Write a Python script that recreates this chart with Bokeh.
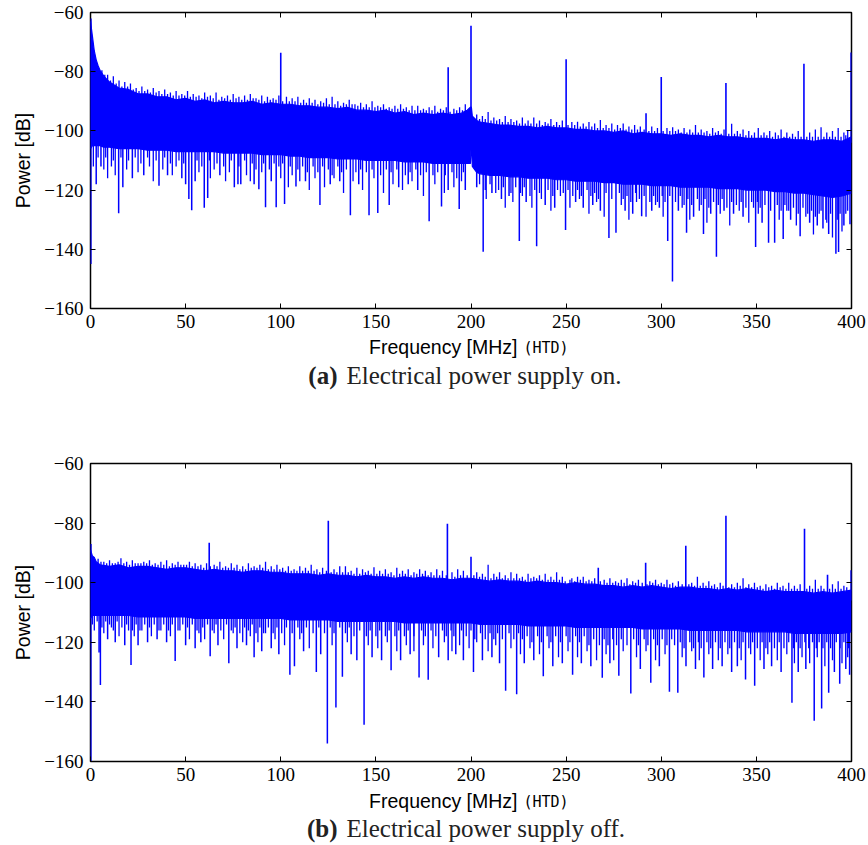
from bokeh.plotting import figure
from bokeh.models import LinearAxis, FixedTicker, Range1d, CustomJSTickFormatter
from bokeh.layouts import column
from bokeh.embed import file_html
from bokeh.resources import INLINE
from bokeh.core.properties import value

BLUE = "#0000ff"

x_ticks = [0, 50, 100, 150, 200, 250, 300, 350, 400]
y_ticks = [-160, -140, -120, -100, -80, -60]
y_tick_labels = {-160: "\u2212160", -140: "\u2212140", -120: "\u2212120",
                 -100: "\u2212100", -80: "\u221280", -60: "\u221260"}
x_label_main = "Frequency [MHz]"
x_label_code = "(HTD)"
tags = ["(a)", "(b)"]
captions = ["Electrical power supply on.", "Electrical power supply off."]

# ---------------- panel (a): power supply on ----------------
a_env_x = [0, 1, 2, 3, 4, 5, 7,
           10, 15, 20, 25, 30, 35, 40, 45, 50, 55,
           60, 65, 70, 75, 80, 85, 90, 95, 100, 105,
           110, 115, 120, 125, 130, 135, 140, 145, 150, 155,
           160, 165, 170, 175, 180, 185, 190, 195,
           198, 199.7, 200.2, 200.7, 203,
           205, 210, 215, 220, 225, 230, 235, 240, 245, 250,
           255, 260, 265, 270, 275, 280, 285, 290, 295, 300,
           305, 310, 315, 320, 325, 330, 335, 340, 345, 350,
           355, 360, 365, 370, 375, 380, 385, 390, 395, 400]
a_env_top = [-63, -68, -73, -76, -78, -79.5, -81.5,
             -83.5, -85.5, -86, -87.5, -87.5, -88.5, -88.5, -89.5, -89, -90,
             -89.5, -90.5, -90, -90.5, -90.5, -90, -91, -90.5, -91, -91,
             -91.5, -91.5, -92, -92, -92.5, -92, -93, -93, -93.5, -93,
             -94, -93.5, -94.5, -94, -94.5, -94, -94.5, -94,
             -93, -92, -92, -95, -96.5,
             -97, -97.5, -98, -98, -98.5, -98.5, -99, -98.5, -99, -99,
             -99.5, -99.5, -100, -100, -100.5, -100, -101, -100.5, -101, -101,
             -101.5, -101, -101.5, -101.5, -102, -101.5, -102, -102, -102.5, -102.5,
             -102.5, -103, -102.5, -103, -103, -103.5, -103, -103, -103.5, -102]
a_env_bot = [-106, -105, -105, -105, -105, -105, -105.5,
             -105.5, -106, -106, -106, -106.5, -106.5, -106.5, -107, -107, -107,
             -107, -107, -107.5, -107.5, -107.5, -107.5, -108, -108, -108, -108.5,
             -108.5, -109, -109, -109, -109.5, -109.5, -109.5, -110, -110, -110,
             -110, -110.5, -110.5, -110.5, -111, -111, -111, -111,
             -111, -111, -103, -112, -114,
             -114.5, -115, -115, -115.5, -115.5, -116, -116, -116, -116.5, -116.5,
             -117, -117, -117, -117.5, -117.5, -118, -118, -118, -118.5, -118.5,
             -118.5, -119, -119, -119, -119, -119.5, -119.5, -119.5, -120, -120,
             -120, -120.5, -120.5, -121, -121, -121.5, -122, -122.5, -122, -121]
a_spike_x = [0.2, 100, 188, 200, 250, 292, 300, 334, 375, 399.8]
a_spike_top = [-62, -73.6, -78.5, -64.5, -75.8, -94, -81.8, -83.8, -77.3, -73.5]
a_peak_x = [6, 9, 12, 15, 18, 21, 24, 27, 30, 33, 36, 39, 42, 45, 48, 51, 54, 57,
            60, 63, 66, 69, 72, 75, 78, 81, 84, 87, 90, 93, 96, 99, 103, 106, 109,
            112, 115, 118, 121, 124, 127, 130, 133, 136, 139, 142, 145, 148, 151,
            154, 157, 160, 163, 166, 169, 172, 175, 178, 181, 184, 187, 191, 194,
            197, 203, 206, 209, 212, 215, 218, 221, 224, 227, 230, 233, 236, 239,
            242, 245, 248, 253, 256, 259, 262, 265, 268, 271, 274, 277, 280, 283,
            286, 289, 295, 298, 303, 306, 309, 312, 315, 318, 321, 324, 327, 330,
            333, 337, 340, 343, 346, 349, 351, 354, 357, 360, 363, 366, 369, 372,
            378, 381, 384, 387, 390, 393, 396, 398]
a_peak_top = [-79.5, -81, -81.5, -83, -83.5, -84, -85.5, -85, -86, -85.5, -86.5,
              -86, -87, -86.5, -87.5, -86.5, -87.5, -88, -87, -88, -87, -88.5, -88,
              -87.5, -88.5, -88, -87.5, -89, -88, -88.5, -89, -88, -88.5, -89,
              -88.5, -89.5, -89, -89.5, -90, -89, -88.5, -90, -90.5, -89.5, -91,
              -90.5, -91, -90, -91.5, -91, -92, -91.5, -91, -92, -91.5, -91.5,
              -92.5, -92, -91.5, -92.5, -92, -92.5, -92, -91, -94.5, -95, -93.6,
              -95.5, -96, -95, -96, -96.5, -95.5, -96.5, -95.5, -96.5, -97, -96,
              -97, -96.5, -97, -96.9, -97.5, -97, -97.5, -96.3, -98, -97.5, -98,
              -97.5, -98.5, -98, -98.5, -98.5, -99, -99, -98.8, -99.5, -99, -99.5,
              -98, -99.5, -100, -99, -100, -99.5, -97.6, -100, -99.5, -100, -100.5,
              -99, -100.5, -100, -100.5, -99.5, -100.5, -101, -100, -100.5, -99.5,
              -98.8, -100.5, -100, -99, -100.5, -100]
a_peak2 = [(7.5, -81), (10.5, -83), (13.5, -84), (16.5, -85), (19.5, -85), (22.5, -86),
           (25.5, -86.5), (28.5, -86.5), (31.5, -87), (34.5, -87), (37.5, -87.5),
           (40.5, -87.5), (43.5, -88), (46.5, -88), (49.5, -88), (52.5, -88.5),
           (55.5, -88.5), (58.5, -89), (61.5, -88.5), (64.5, -89), (67.5, -89.5),
           (70.5, -89), (73.5, -89.5), (76.5, -89), (79.5, -89.5), (82.5, -89.5),
           (85.5, -89), (88.5, -89.5), (91.5, -90), (94.5, -89.5), (97.5, -89.5),
           (101, -90), (104.5, -90), (107.5, -90), (110.5, -90.5), (113.5, -90.5),
           (116.5, -90.5), (119.5, -91), (122.5, -90.5), (125.5, -91), (128.5, -91),
           (131.5, -91.5), (134.5, -91), (137.5, -91), (140.5, -91.5), (143.5, -92),
           (146.5, -92), (149.5, -92), (152.5, -92), (155.5, -92.5), (158.5, -92.5),
           (161.5, -92.5), (164.5, -92.5), (167.5, -93), (170.5, -93), (173.5, -93),
           (176.5, -93), (179.5, -93), (182.5, -93.5), (185.5, -93), (189, -93.5),
           (192.5, -93), (195.5, -93), (204.5, -96), (207.5, -96), (210.5, -96.5),
           (213.5, -96.5), (216.5, -97), (219.5, -97), (222.5, -97), (225.5, -97.5),
           (228.5, -97.5), (231.5, -97.5), (234.5, -97.5), (237.5, -98), (240.5, -97.5),
           (243.5, -98), (246.5, -98), (251, -98), (254.5, -98), (257.5, -98.5),
           (260.5, -98.5), (263.5, -98.5), (266.5, -99), (269.5, -99), (272.5, -99),
           (275.5, -99.5), (278.5, -99), (281.5, -99.5), (284.5, -99.5), (287.5, -99.5),
           (291, -99.5), (293.5, -100), (296.5, -100), (301, -100), (304.5, -100),
           (307.5, -100), (310.5, -100.5), (313.5, -100.5), (316.5, -100.5),
           (319.5, -100.5), (322.5, -100.5), (325.5, -101), (328.5, -100.5),
           (331.5, -101), (335.5, -101), (338.5, -101), (341.5, -101), (344.5, -101.5),
           (347.5, -101.5), (352.5, -101.5), (355.5, -101.5), (358.5, -102),
           (361.5, -101.5), (364.5, -102), (367.5, -102), (370.5, -102), (373.5, -102),
           (376.5, -102), (379.5, -102), (382.5, -102), (385.5, -102), (388.5, -102),
           (391.5, -102), (394.5, -102), (397, -101.5)]
a_dip_x = [0.2, 3, 5.5, 14.8, 17, 22, 28, 36, 40.5, 48, 50, 51.7, 53.2, 55, 59.8, 61.6,
           68, 75.6, 77.5, 79, 86, 88.5, 92, 95, 97.6, 102, 108, 113, 120.6, 126,
           131, 136.6, 141, 146.4, 151, 157, 162, 167, 172, 178, 184.5, 188, 193.8,
           197, 203, 206.4, 211, 216, 220, 225.4, 229, 234.5, 239, 244, 249.7, 255,
           259, 264, 268, 272.5, 276.2, 281, 285, 289.7, 295, 299, 303.4, 305.9,
           309, 313.3, 317, 322.2, 326, 329, 333, 338, 343, 349.6, 353, 356.4,
           359.6, 364.1, 368, 373, 378, 382, 385, 388, 391.8, 393.2, 396, 399.2]
a_dip_bot = [-145, -118, -112, -127.8, -119, -116, -115, -118.5, -115, -116, -118,
             -123, -126.8, -117, -126, -122.7, -115, -119, -118, -118, -118, -119.7,
             -125.8, -117, -125.8, -124.7, -118.8, -117, -125, -118, -117, -128.5,
             -118, -128.5, -127.7, -125, -119, -118, -120, -130.5, -125.5, -120,
             -126.4, -120, -119, -140.8, -121, -123, -122, -137.2, -124, -139, -125,
             -126, -133.5, -124, -126, -125, -127, -136.2, -134.4, -127, -128,
             -128.8, -127, -126, -137.2, -150.9, -127, -134.4, -129, -134.8, -128,
             -142.5, -127, -128, -129, -139.2, -131, -137.8, -137.8, -136.5, -130,
             -135.6, -131, -132, -133, -134.8, -141.5, -140.9, -132, -131.5]
a_dip2_x = [1.5, 7, 9, 11, 13, 19, 25, 31, 33, 38, 43, 45, 57, 63, 65, 71, 73, 82,
            84, 90, 100, 104, 106, 110, 115, 118, 123, 128, 133, 138, 143, 149, 154,
            159, 164, 169, 175, 181, 186, 191, 195, 208, 213, 218, 222, 227, 232,
            237, 242, 247, 252, 257, 262, 266, 270, 279, 283, 287, 292, 297, 301,
            311, 315, 320, 324, 331, 336, 341, 346, 351, 362, 366, 371, 376, 380,
            383, 387, 390, 395, 397]
a_dip2_bot = [-112, -113, -116, -112, -115, -113, -114, -112, -117, -113, -115,
              -112, -114, -116, -113, -117, -114, -115, -117, -114, -116, -119,
              -115, -117, -120, -116, -119, -116, -121, -117, -120, -116, -121,
              -118, -120, -117, -122, -118, -121, -119, -117, -123, -121, -126,
              -124, -122, -126, -123, -127, -122, -126, -123, -128, -124, -129,
              -125, -130, -124, -129, -125, -129, -126, -130, -127, -131, -128,
              -132, -127, -131, -128, -130, -127, -132, -129, -135, -128, -131,
              -136, -134, -128]
a_dip3 = [(4, -109), (8, -109), (12, -110), (16, -109), (20, -110), (23.5, -109),
          (26.5, -111), (30, -109), (34.5, -110), (39, -109), (42, -111), (46.5, -110),
          (49, -111), (56, -110), (58.5, -112), (62.5, -110), (66.5, -111), (70, -112),
          (74, -110), (78, -112), (81, -110), (85, -111), (87, -113), (91, -111),
          (94, -113), (96.5, -111), (99, -112), (101, -111), (105, -112), (109, -113),
          (111.5, -112), (114, -114), (117, -112), (119.5, -114), (122, -112),
          (125, -113), (127, -115), (130, -112), (132, -114), (134.5, -113),
          (139.5, -114), (142, -113), (145, -114), (148, -113), (152.5, -115),
          (155.5, -113), (158, -114), (161, -113), (165.5, -115), (168, -114),
          (171, -113), (173.5, -115), (176.5, -114), (180, -115), (182.5, -114),
          (186.5, -115), (190, -114), (192.5, -116), (196, -114), (204.5, -118),
          (207.5, -120), (210, -118), (214.5, -120), (217, -119), (221, -121),
          (223.5, -119), (226, -121), (228, -119), (231, -122), (233.5, -120),
          (236, -121), (240.5, -120), (243, -122), (245.5, -120), (248.5, -121),
          (251, -120), (253.5, -122), (256, -120), (258, -122), (261, -120),
          (263, -122), (265, -121), (267, -123), (271, -121), (274, -123), (278, -121),
          (280, -123), (282, -122), (284, -124), (286.5, -121), (288.5, -123),
          (291, -122), (294, -124), (296, -122), (298, -124), (300.5, -122),
          (302, -124), (304.5, -122), (307.5, -124), (310, -122), (312, -125),
          (314, -123), (316, -125), (319, -123), (321, -125), (323, -123), (325, -126),
          (327.5, -124), (330, -125), (332, -123), (334.5, -126), (337, -124),
          (339.5, -125), (342, -124), (344.5, -126), (347.5, -124), (348.5, -126),
          (350.5, -124), (352, -126), (354.5, -125), (357.5, -127), (361, -125),
          (363, -127), (365, -125), (367, -127), (369.5, -126), (372, -128),
          (374.5, -126), (377, -128), (379, -127), (381, -129), (384, -127),
          (386.5, -130), (389, -128), (392.5, -130), (394, -128), (398, -127)]

# ---------------- panel (b): power supply off ----------------
b_env_x = [0, 1, 2, 3,
           5, 10, 15, 20, 25, 30, 35, 40, 45, 50,
           55, 60, 65, 70, 75, 80, 85, 90, 95, 100,
           105, 110, 115, 120, 125, 130, 135, 140, 145, 150,
           155, 160, 165, 170, 175, 180, 185, 190, 195, 200,
           205, 210, 215, 220, 225, 230, 235, 240, 245, 250,
           255, 260, 265, 270, 275, 280, 285, 290, 295, 300,
           305, 310, 315, 320, 325, 330, 335, 340, 345, 350,
           355, 360, 365, 370, 375, 380, 385, 390, 395, 400]
b_env_top = [-89, -91, -91.5, -93,
             -94, -94.5, -94, -95, -94.5, -94.5, -95, -95.5, -95, -95,
             -95.5, -96, -95.5, -96, -96, -96.5, -96, -96, -96.5, -96.5,
             -97, -97, -97, -97.5, -97, -97.5, -97.5, -98, -97.5, -98,
             -98, -98.5, -98, -98.5, -98, -98.5, -98.5, -99, -98.5, -98.5,
             -99, -99.5, -99, -99.5, -99.5, -100, -99.5, -100, -100, -100.5,
             -100, -100.5, -100.5, -101, -101, -101.5, -101, -101.5, -101, -101.5,
             -102, -101.5, -101.5, -102, -102, -102.5, -102, -102.5, -102, -102.5,
             -103, -102.5, -103, -103, -103, -103.5, -103, -103.5, -103, -102.5]
b_env_bot = [-112, -111, -111, -111,
             -111, -111, -111, -111, -111.5, -111.5, -111.5, -111.5, -111.5, -111.5,
             -112, -112, -112, -112, -112, -112, -112, -112, -112, -112,
             -112.5, -112.5, -112.5, -112.5, -112.5, -113, -113, -113, -113, -113,
             -113, -113, -113.5, -113.5, -113.5, -113.5, -113.5, -113.5, -113.5, -113.5,
             -114, -114, -114, -114, -114, -114.5, -114.5, -114.5, -114.5, -114.5,
             -115, -115, -115, -115, -115, -115, -115, -115.5, -115.5, -115.5,
             -115.5, -115.5, -116, -116, -116, -116, -116, -116, -116.5, -116.5,
             -116.5, -116.5, -116.5, -117, -117, -117, -117, -117, -117, -116.5]
b_spike_x = [0.2, 62.4, 125, 187.6, 200, 266.9, 291.8, 312.9, 334, 375.3, 387.4, 399.8]
b_spike_top = [-87, -86.6, -79.2, -80.2, -91.3, -95, -93.3, -87.6, -77.5, -81.9, -97.3, -95.8]
b_peak_x = [4, 7, 10, 13, 16, 19, 22, 25, 28, 31, 34, 37, 40, 43, 46, 49, 52, 55,
            58, 61, 65, 68, 71, 74, 77, 80, 83, 86, 89, 92, 95, 98, 101, 104, 107,
            110, 113, 116, 119, 122, 128, 131, 134, 137, 140, 143, 146, 149, 152,
            155, 158, 161, 164, 167, 170, 173, 176, 179, 182, 185, 190, 193, 196,
            203, 206, 209, 212, 215, 218, 221, 224, 227, 230, 233, 236, 239, 242,
            245, 248, 253, 256, 259, 262, 265, 270, 273, 276, 279, 282, 285, 288,
            294, 297, 300, 303, 306, 309, 316, 319, 322, 325, 328, 331, 337, 340,
            343, 346, 349, 352, 355, 358, 361, 364, 367, 370, 373, 378, 381, 384,
            390, 393, 396]
b_peak_top = [-92, -93, -92.5, -93.5, -91.8, -93, -92.5, -93.5, -93, -92.5, -93.5,
              -93, -92.5, -93.5, -93, -94, -93, -93.5, -94, -93.5, -94, -93, -94.5,
              -93.5, -94, -94.5, -93.5, -94.5, -94, -93, -94.5, -94, -95, -94.5,
              -95.5, -94.5, -95, -94, -95.5, -95, -95.5, -94.5, -94.5, -96, -95,
              -95.5, -96, -94.8, -96, -95.5, -96.5, -95, -96, -95.5, -96.5, -95.5,
              -96, -96.5, -95.5, -96, -96.5, -95.5, -96, -96.5, -97, -94, -97,
              -96.5, -97.5, -96.5, -97, -98, -97, -98, -97.5, -97, -98, -96.5, -98,
              -98.5, -98, -98, -99, -98.5, -99, -98.5, -99.5, -99, -98.5, -99.5,
              -99, -99.5, -99, -100, -99, -100, -99.5, -100, -98, -100, -99.5,
              -100.5, -100, -100.5, -100, -98.5, -100.5, -100, -101, -100.5, -101,
              -100, -101, -100, -101, -100.5, -101, -99, -101, -100.5, -99.5, -101]
b_peak2 = [(5.5, -93), (8.5, -93.5), (11.5, -93.5), (14.5, -93), (17.5, -93.5),
           (20.5, -94), (23.5, -93.5), (26.5, -93.5), (29.5, -93.5), (32.5, -94),
           (35.5, -94), (38.5, -94), (41.5, -94.5), (44.5, -94), (47.5, -94),
           (50.5, -94), (53.5, -94.5), (56.5, -94.5), (59.5, -95), (63, -94.5),
           (66.5, -94.5), (69.5, -95), (72.5, -95), (75.5, -95), (78.5, -95.5),
           (81.5, -95.5), (84.5, -95), (87.5, -95), (90.5, -95), (93.5, -95.5),
           (96.5, -95.5), (99.5, -95.5), (102.5, -96), (105.5, -96), (108.5, -96),
           (111.5, -96), (114.5, -96), (117.5, -96), (120.5, -96.5), (124, -96),
           (126.5, -96.5), (129.5, -96.5), (132.5, -96.5), (135.5, -96.5), (138.5, -97),
           (141.5, -97), (144.5, -96.5), (147.5, -97), (150.5, -97), (153.5, -97),
           (156.5, -97), (159.5, -97.5), (162.5, -97), (165.5, -97), (168.5, -97.5),
           (171.5, -97), (174.5, -97), (177.5, -97.5), (180.5, -97.5), (183.5, -97.5),
           (187, -97.5), (191.5, -98), (194.5, -97.5), (198, -97.5), (201.5, -97.5),
           (204.5, -98), (207.5, -98), (210.5, -98.5), (213.5, -98), (216.5, -98.5),
           (219.5, -98.5), (222.5, -98.5), (225.5, -98.5), (228.5, -99), (231.5, -98.5),
           (234.5, -98.5), (237.5, -99), (240.5, -99), (243.5, -99), (246.5, -99),
           (249.5, -99.5), (252, -99), (254.5, -99.5), (257.5, -99), (260.5, -99.5),
           (263.5, -99.5), (268, -99.5), (271.5, -100), (274.5, -100), (277.5, -100),
           (280.5, -100), (283.5, -100.5), (286.5, -100), (290, -100), (292.5, -100.5),
           (295.5, -100), (298.5, -100.5), (301.5, -100.5), (304.5, -100.5),
           (307.5, -101), (311, -100.5), (314.5, -100.5), (317.5, -101), (320.5, -101),
           (323.5, -101), (326.5, -101), (329.5, -101.5), (332.5, -101), (335.5, -101.5),
           (338.5, -101.5), (341.5, -101), (344.5, -101.5), (347.5, -101.5),
           (350.5, -101.5), (353.5, -102), (356.5, -101.5), (359.5, -102),
           (362.5, -101.5), (365.5, -102), (368.5, -102), (371.5, -102), (376.5, -102),
           (379.5, -102), (382.5, -102), (385.5, -102), (388.5, -102), (391.5, -102),
           (394.5, -102), (397.5, -101.5)]
b_dip_x = [0.2, 4.5, 5.2, 9, 13, 18, 21.3, 25, 30, 35, 40, 44.5, 50, 55, 58, 62.9,
           67, 72.7, 77, 82, 86, 90, 95, 99, 104.8, 107.2, 112, 118.7, 121, 124.5,
           129, 132.4, 137, 140, 143.8, 148, 153, 158, 163, 168, 172.7, 177.5, 183,
           188, 192, 196, 201.3, 206, 211, 215, 218.2, 224, 228, 233, 238, 243, 248,
           253.4, 258, 263, 269, 273, 277.7, 284, 289, 294.5, 299, 304.3, 308.7, 313,
           318, 322.4, 327, 332, 337, 340, 344.3, 349.1, 354, 358, 363, 368.7, 372,
           376, 380.4, 384.3, 388, 391, 393.8, 397, 399]
b_dip_bot = [-160, -123.4, -134.3, -119, -120, -121, -127.6, -121, -120, -119, -120,
             -126.3, -121, -122, -120, -124.7, -121, -127, -122, -121, -125, -123,
             -122, -124, -130.9, -128, -123, -130, -124, -154, -141.9, -131.6, -124,
             -126, -147.7, -125, -126, -129.4, -126, -124, -131.8, -132.6, -125,
             -126, -124, -126, -130, -126, -125, -127, -136.3, -137.4, -127, -126,
             -131.4, -128, -127, -130.9, -127, -128, -131.9, -127, -131.2, -137.2,
             -129, -133.6, -128, -136.6, -136.9, -128, -129, -131.8, -129, -128,
             -130, -128, -132.5, -134.6, -129, -128, -130, -140.3, -130, -129,
             -146.3, -142.2, -136.9, -130, -133.9, -129, -130.9]
b_dip2_x = [2, 7, 11, 15, 20, 23, 27, 32, 37, 42, 47, 52, 57, 60, 65, 70, 75, 80, 84,
            88, 92, 97, 102, 110, 115, 127, 135, 146, 151, 156, 161, 166, 170, 175,
            180, 186, 190, 194, 199, 203, 209, 213, 221, 226, 231, 236, 241, 246,
            251, 256, 261, 266, 271, 275, 280, 287, 292, 297, 302, 311, 316, 320,
            325, 330, 335, 342, 347, 352, 356, 361, 366, 370, 374, 378, 382, 386,
            390, 395, 398]
b_dip2_bot = [-116, -117, -115, -118, -116, -118, -116, -118, -116, -118, -116,
              -119, -117, -119, -117, -119, -117, -120, -118, -120, -117, -119,
              -121, -119, -122, -121, -120, -121, -122, -120, -123, -121, -123,
              -121, -122, -120, -123, -121, -122, -120, -123, -121, -122, -124,
              -122, -124, -122, -125, -123, -125, -123, -126, -124, -126, -123,
              -125, -123, -126, -124, -125, -123, -126, -124, -126, -124, -126,
              -124, -126, -124, -126, -124, -127, -125, -127, -125, -128, -126,
              -127, -125]
b_dip3 = [(1, -114), (3.5, -113), (6, -115), (8, -113), (10, -114), (12, -116),
          (14, -113), (16.5, -115), (19, -114), (22, -116), (24, -114), (26, -116),
          (28.5, -114), (31, -115), (33.5, -114), (36, -116), (38.5, -114), (41, -116),
          (43, -114), (46, -116), (48.5, -114), (51, -115), (53.5, -114), (56, -116),
          (59, -115), (61.5, -114), (64, -116), (66, -114), (68.5, -116), (71.5, -114),
          (74, -116), (76, -115), (78.5, -117), (81, -115), (83, -116), (85, -114),
          (87, -117), (89, -115), (91, -117), (93.5, -115), (96, -117), (98, -115),
          (100.5, -117), (103, -115), (106, -117), (109, -115), (111, -117),
          (113.5, -115), (117, -117), (120, -115), (123, -117), (126, -115), (128, -117),
          (131, -115), (134, -117), (136, -115), (138.5, -118), (141.5, -116),
          (145, -118), (147, -116), (150, -118), (152, -116), (155, -118), (157, -116),
          (160, -118), (162, -116), (165, -118), (167, -116), (170, -118), (174, -116),
          (176, -118), (179, -116), (181.5, -118), (185, -116), (187, -118),
          (189.5, -116), (191, -118), (195, -116), (197.5, -118), (200, -116),
          (202, -119), (205, -117), (207.5, -119), (210, -117), (212, -119), (214, -117),
          (216.5, -119), (220, -117), (222.5, -119), (225, -117), (227, -119),
          (229.5, -118), (232, -120), (235, -118), (237, -120), (240, -118), (242, -120),
          (244.5, -118), (247, -120), (250, -118), (252, -120), (255, -118), (257, -120),
          (259.5, -118), (262, -121), (264.5, -119), (267.5, -121), (270, -119),
          (272, -121), (274.5, -119), (276.5, -121), (279, -119), (282, -121),
          (285.5, -119), (288, -121), (291, -119), (293, -121), (296, -119), (298, -121),
          (300.5, -119), (303, -121), (305.5, -119), (307, -121), (310, -120),
          (312, -122), (315, -120), (317, -122), (319.5, -120), (321, -122), (324, -120),
          (326, -122), (328.5, -120), (331, -122), (333.5, -120), (336, -122),
          (338.5, -120), (341, -122), (343, -120), (346, -122), (348, -120),
          (350.5, -122), (353, -120), (355, -122), (357, -120), (359.5, -122),
          (362, -120), (364.5, -122), (367, -120), (369.5, -122), (371, -120),
          (373, -122), (375.5, -120), (377.5, -122), (379.5, -120), (381.5, -122),
          (383, -120), (385, -122), (387, -120), (389, -122), (392, -120), (394, -122),
          (396, -120), (398.5, -122)]

SERIF = "Liberation Serif"
SANS = "Liberation Sans"
MONO = "DejaVu Sans Mono"
LEFT, FRAME_W, RIGHT = 90, 761, 16


def style_axis(ax):
    ax.axis_line_color = None
    ax.major_tick_in = 5
    ax.major_tick_out = 0
    ax.minor_tick_line_color = None
    ax.major_tick_line_color = "black"
    ax.major_tick_line_width = 1


def vsegs(p, xs, tops, base, width):
    p.segment(x0=xs, y0=[base] * len(xs), x1=xs, y1=tops,
              line_color=BLUE, line_width=width)


def make_panel(env_x, env_top, env_bot, spike_x, spike_top, peak_x, peak_top, peak2,
               dip_x, dip_bot, dip2_x, dip2_bot, dip3, base, frame_h, border_top):
    p = figure(frame_width=FRAME_W, frame_height=frame_h,
               min_border_left=LEFT, min_border_right=RIGHT,
               min_border_top=border_top, min_border_bottom=28,
               x_range=Range1d(0, 400), y_range=Range1d(-160, -60),
               output_backend="svg", toolbar_location=None)
    p.grid.visible = False
    p.outline_line_color = "black"
    p.outline_line_width = 1.5
    p.background_fill_color = "white"
    p.border_fill_color = "white"

    p.varea(x=env_x, y1=env_bot, y2=env_top, fill_color=BLUE)
    p.line(x=env_x, y=env_top, line_color=BLUE, line_width=1.2)
    p.line(x=env_x, y=env_bot, line_color=BLUE, line_width=1.2)
    vsegs(p, [q[0] for q in peak2], [q[1] for q in peak2], base, 1.3)
    vsegs(p, peak_x, peak_top, base, 1.3)
    vsegs(p, [q[0] for q in dip3], [q[1] for q in dip3], base, 1.3)
    vsegs(p, dip2_x, dip2_bot, base, 1.3)
    vsegs(p, dip_x, dip_bot, base, 1.5)
    vsegs(p, spike_x, spike_top, base, 1.6)

    xa = p.xaxis[0]
    ya = p.yaxis[0]
    for ax in (xa, ya):
        style_axis(ax)
        ax.major_label_text_font = SERIF
        ax.major_label_text_font_size = "19px"
        ax.major_label_text_color = "black"
    xa.ticker = FixedTicker(ticks=x_ticks)
    ya.ticker = FixedTicker(ticks=y_ticks)
    ya.major_label_overrides = y_tick_labels
    xa.major_label_standoff = 6
    ya.major_label_standoff = 7
    ya.axis_label = "Power [dB]"
    ya.axis_label_text_font = SANS
    ya.axis_label_text_font_size = "19.5px"
    ya.axis_label_text_font_style = "normal"
    ya.axis_label_text_color = "black"
    ya.axis_label_standoff = 7

    blank = CustomJSTickFormatter(code="return ''")
    top_ax = LinearAxis(ticker=FixedTicker(ticks=x_ticks), formatter=blank)
    right_ax = LinearAxis(ticker=FixedTicker(ticks=y_ticks), formatter=blank)
    for ax in (top_ax, right_ax):
        style_axis(ax)
        ax.major_label_standoff = 0
    p.add_layout(top_ax, "above")
    p.add_layout(right_ax, "right")
    return p


def make_caption(height, xlabel_mid, caption_mid, tag, caption):
    # text strip: x data == page pixel column, y data == pixels from the strip bottom
    t = figure(frame_width=FRAME_W, frame_height=height,
               min_border_left=LEFT, min_border_right=RIGHT,
               min_border_top=0, min_border_bottom=0,
               x_range=Range1d(LEFT, LEFT + FRAME_W), y_range=Range1d(0, height),
               x_axis_type=None, y_axis_type=None,
               output_backend="svg", toolbar_location=None)
    t.grid.visible = False
    t.outline_line_color = None
    t.background_fill_color = "white"
    t.border_fill_color = "white"
    yl = height - xlabel_mid
    yc = height - caption_mid
    t.text(x=[517], y=[yl], text=[x_label_main], text_align="right",
           text_baseline="middle", text_font=value(SANS), text_font_size="19.5px",
           text_color="black")
    t.text(x=[523], y=[yl - 1.5], text=[x_label_code], text_align="left",
           text_baseline="middle", text_font=value(MONO), text_font_size="15px",
           text_color="black")
    t.text(x=[337], y=[yc], text=[tag], text_align="right",
           text_baseline="middle", text_font=value(SERIF), text_font_size="25px",
           text_font_style="bold", text_color="#222222")
    t.text(x=[346], y=[yc], text=[caption], text_align="left",
           text_baseline="middle", text_font=value(SERIF), text_font_size="25px",
           text_color="#222222")
    return t


p1 = make_panel(a_env_x, a_env_top, a_env_bot, a_spike_x, a_spike_top, a_peak_x, a_peak_top,
                a_peak2, a_dip_x, a_dip_bot, a_dip2_x, a_dip2_bot, a_dip3, -104, 296, 12)
t1 = make_caption(115, 10, 39, tags[0], captions[0])
p2 = make_panel(b_env_x, b_env_top, b_env_bot, b_spike_x, b_spike_top, b_peak_x, b_peak_top,
                b_peak2, b_dip_x, b_dip_bot, b_dip2_x, b_dip2_bot, b_dip3, -106, 298, 12)
t2 = make_caption(56, 11, 39, tags[1], captions[1])

layout = column(p1, t1, p2, t2, spacing=0)
open("out.html", "w").write(file_html(layout, INLINE))
